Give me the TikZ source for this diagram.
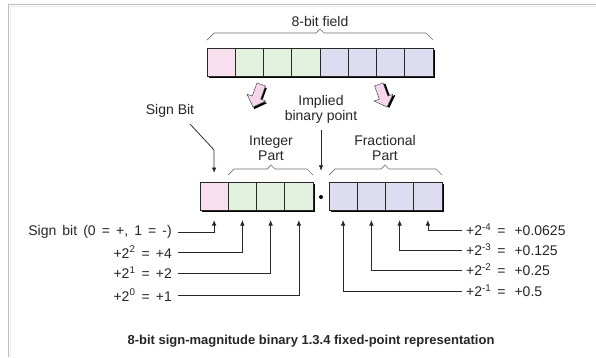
\documentclass[tikz,border=0pt]{standalone}
\usepackage{fontspec}
\setmainfont{Liberation Sans}
\usetikzlibrary{arrows.meta}
\definecolor{signc}{RGB}{247,223,238}
\definecolor{intc}{RGB}{226,241,222}
\definecolor{fracc}{RGB}{221,220,241}
\definecolor{fatpink}{RGB}{246,214,236}
\definecolor{linec}{RGB}{40,40,40}
\definecolor{bracec}{RGB}{110,110,110}
\definecolor{framec}{RGB}{190,190,190}
\newcommand\fatarrow[3]{%
  \begin{scope}[shift={(#1,#2)}, rotate=#3]
    \fill[black] (2,1.5) -- (-8,-8.5) -- (-2.5,-8.5) -- (-2.5,-22.5) -- (6.5,-22.5) -- (6.5,-8.5) -- (12,-8.5) -- cycle;
    \draw[fat] (0,0) -- (-10,-10) -- (-4.5,-10) -- (-4.5,-24) -- (4.5,-24) -- (4.5,-10) -- (10,-10) -- cycle;
  \end{scope}}
\begin{document}
\begin{tikzpicture}[x=1pt,y=-1pt,
  txt/.style={font=\fontsize{14}{15}\selectfont, inner sep=0pt, text=black!85},
  ltxt/.style={txt, anchor=east, execute at begin node={\spaceskip=6.1pt plus 0pt minus 0pt\relax}},
  cell/.style={draw=linec, line width=0.7pt, minimum width=28.25pt, minimum height=28pt, inner sep=0pt, outer sep=0pt, anchor=north west},
  conn/.style={draw=linec, line width=0.75pt, -{Latex[length=5.5pt,width=4.5pt]}},
  brc/.style={draw=bracec, line width=0.7pt},
  fat/.style={fill=fatpink, draw=black!70, line width=0.5pt, line join=miter},
]
\useasboundingbox (0,0) rectangle (596,357);
\fill[white] (0,0) rectangle (596,357);
% frame
\draw[framec, line width=1.5pt] (8.5,357) -- (8.5,4.5) -- (596,4.5);
\draw[black!8, line width=1pt] (10,357) -- (10,6) -- (596,6);

% top field
\fill[black] (209,50) rectangle (435,78);
\foreach \i/\c in {0/signc,1/intc,2/intc,3/intc,4/fracc,5/fracc,6/fracc,7/fracc}
  \node[cell, fill=\c] (t\i) at ({207+28.25*\i},48) {};
\draw[brc] (207,40) -- (214,33) -- (316,33) -- (320,29) -- (324,33) -- (426,33) -- (433,40);
\node[txt] (fl) at (320,21) {8-bit field};

% fat arrows
\fatarrow{253}{107}{-20}
\fatarrow{387}{107}{20}

% labels above
\node[txt] (sb) at (170,111) {Sign Bit};
\node[txt, align=center] (ip) at (321,109) {Implied\\binary point};
\node[txt, align=center] (ipart) at (271,148) {Integer\\Part};
\node[txt, align=center] (fpart) at (385,148) {Fractional\\Part};
\draw[brc] (228,175) -- (234,169) -- (267,169) -- (271,165) -- (275,169) -- (307,169) -- (313,175);
\draw[brc] (329,175) -- (335,169) -- (381,169) -- (385,165) -- (389,169) -- (436,169) -- (442,175);

% bottom cells
\fill[black] (202,184) rectangle (315,212);
\fill[black] (331,184) rectangle (444,212);
\foreach \i/\c in {0/signc,1/intc,2/intc,3/intc}
  \node[cell, fill=\c] (b\i) at ({200+28.25*\i},182) {};
\foreach \i in {1,2,3,4}
  \node[cell, fill=fracc] (f\i) at ({329+28.25*(\i-1)},182) {};
\node[circle, fill=black, inner sep=0pt, minimum size=4pt] (dot) at (321,197) {};

% sign bit and implied point arrows
\coordinate (sbs) at (190,124);
\draw[conn] (sbs) -- (214.1,150) -- ([yshift=9pt]b0.north);
\draw[conn] ([yshift=-7pt]ip.south) -- ([yshift=24pt]dot.north);

% left labels
\node[ltxt] (l0) at (172,232) {Sign bit (0 = +, 1 = -)};
\node[ltxt] (l1) at (172,252) {+2\textsuperscript{2} = +4};
\node[ltxt] (l2) at (172,273) {+2\textsuperscript{1} = +2};
\node[ltxt] (l3) at (172,295) {+2\textsuperscript{0} = +1};
\draw[conn] ([xshift=6pt]l0.east) -| ([yshift=-10pt]b0.south);
\draw[conn] ([xshift=6pt]l1.east) -| ([yshift=-10pt]b1.south);
\draw[conn] ([xshift=6pt]l2.east) -| ([yshift=-10pt]b2.south);
\draw[conn] ([xshift=6pt]l3.east) -| ([yshift=-10pt]b3.south);

% right labels
\node[txt, anchor=west] (r4) at (466,230) {+2\textsuperscript{-4}\hspace{6pt}=\hspace{9pt}+0.0625};
\node[txt, anchor=west] (r3) at (466,250) {+2\textsuperscript{-3}\hspace{6pt}=\hspace{9pt}+0.125};
\node[txt, anchor=west] (r2) at (466,270) {+2\textsuperscript{-2}\hspace{6pt}=\hspace{9pt}+0.25};
\node[txt, anchor=west] (r1) at (466,291) {+2\textsuperscript{-1}\hspace{6pt}=\hspace{9pt}+0.5};
\draw[conn] ([xshift=-4pt]r4.west) -| ([yshift=-10pt]f4.south);
\draw[conn] ([xshift=-4pt]r3.west) -| ([yshift=-10pt]f3.south);
\draw[conn] ([xshift=-4pt]r2.west) -| ([yshift=-10pt]f2.south);
\draw[conn] ([xshift=-4pt]r1.west) -| ([yshift=-10pt]f1.south);

% title
\node[txt, font=\fontsize{13}{15}\selectfont\bfseries] (title) at (311,341) {8-bit sign-magnitude binary 1.3.4 fixed-point representation};
\end{tikzpicture}
\end{document}
